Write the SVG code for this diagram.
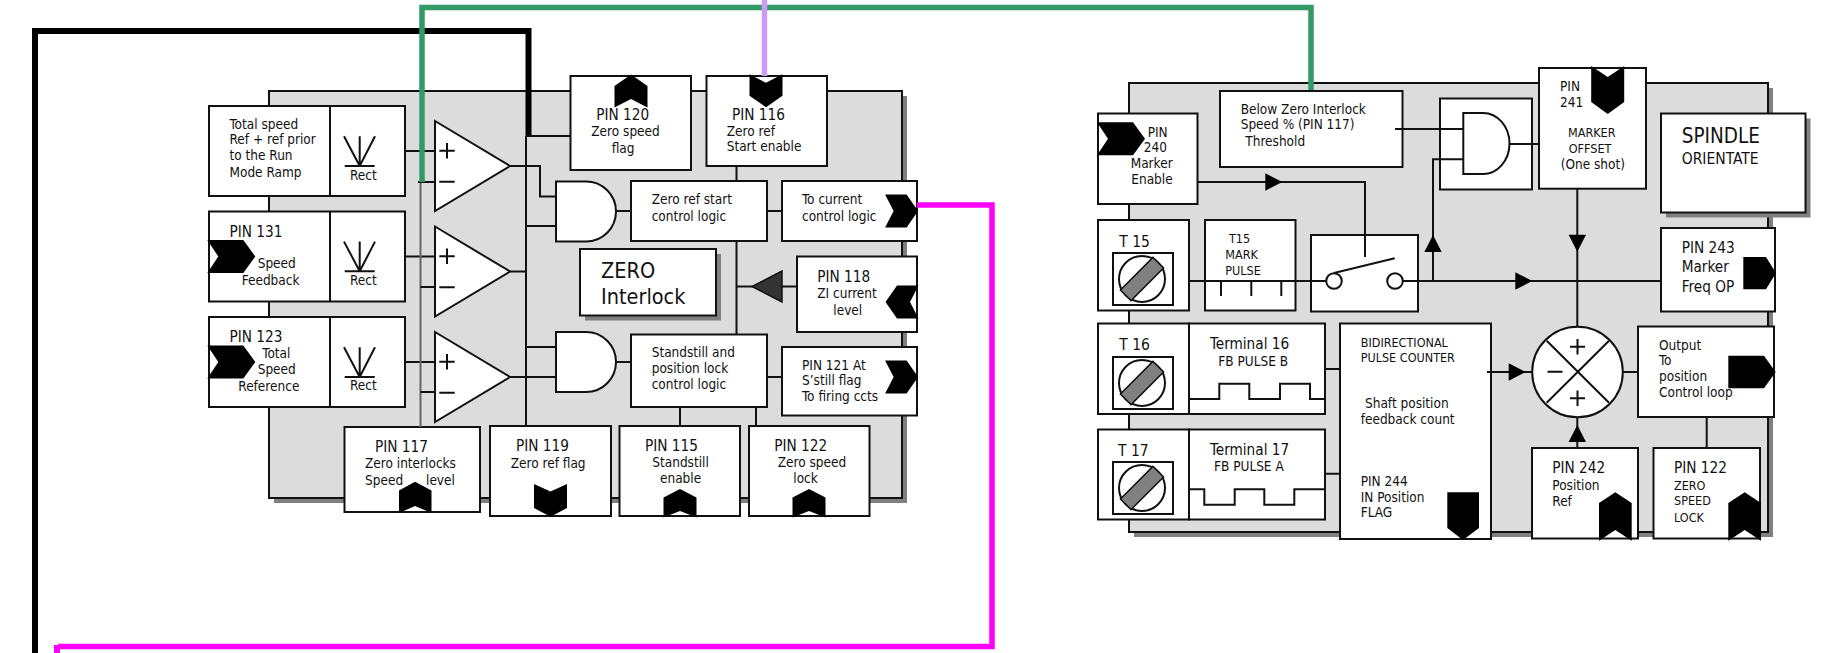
<svg xmlns="http://www.w3.org/2000/svg" width="1844" height="653" viewBox="0 0 1844 653">
<style>
text{font-family:"DejaVu Sans Condensed","DejaVu Sans","Liberation Sans",sans-serif;fill:#111}
.t{font-size:13.500px}.u{font-size:12.500px}.p{font-size:15.200px}.b{font-size:20.500px}.z{font-size:21.500px}.m{font-size:15.500px}
.box{fill:#fff;stroke:#111;stroke-width:2}
.panel{fill:#dcdcdc;stroke:#111;stroke-width:2}
.sh{fill:#808080;stroke:none}
.w{fill:none;stroke:#111;stroke-width:2}
.c{fill:none;stroke:#111;stroke-width:2}
.f{fill:#000;stroke:none}
.bar{fill:#808080;stroke:#111;stroke-width:1.500}
</style>
<defs>
<polygon id="cs" points="-16.500,-16.500 5,-16.500 16.500,0 5,16.500 -16.500,16.500 -8,0"/>
<polygon id="cl" points="-24,-16.500 12,-16.500 24,0 12,16.500 -24,16.500 -13,0"/>
<polygon id="au" points="0,0 8.700,17 -8.700,17"/>
<g id="rect"><path class="w" d="M344.700 166H374.700M359.700 166L344 136.300M359.700 166V136.300M359.700 166L375 136.300"/></g>
<g id="screw"><rect class="box" x="-29" y="-26" width="60" height="52"/><circle class="box" cx="0" cy="0" r="23"/><rect class="bar" x="-23" y="-7.500" width="46" height="15" transform="rotate(-45)"/></g>
<g id="amp"><polygon class="box" points="435,0 510,45 435,90"/><path class="w" d="M439.300 29.700H454.700M447 22V37.500M439.300 60.700H454.700"/></g>
</defs>
<g id="panel-left"><rect class="sh" x="274" y="96" width="633" height="407"/><rect class="panel" x="269" y="91" width="633" height="407"/></g>
<g id="panel-right"><rect class="sh" x="1134" y="88" width="639" height="449"/><rect class="panel" x="1129" y="83" width="639" height="449"/></g>

<g id="n-total-speed"><rect class="box" x="209" y="106" width="196" height="90"/><path class="w" d="M330 106V196"/><use href="#rect"/>
<text class="t" x="229.500" y="128.700">Total speed</text><text class="t" x="229.500" y="144">Ref + ref prior</text><text class="t" x="229.500" y="160">to the Run</text><text class="t" x="229.500" y="176.700">Mode Ramp</text><text class="t" x="350" y="180">Rect</text></g>
<g id="n-pin131"><rect class="box" x="209" y="211.500" width="196" height="90"/><path class="w" d="M330 211.500V301.500"/><use href="#rect" y="105.300"/>
<use class="f" href="#cl" x="231.300" y="256.500"/>
<text class="p" x="229.500" y="236.700">PIN 131</text><text class="t" x="257.700" y="268">Speed</text><text class="t" x="241.700" y="285">Feedback</text><text class="t" x="350" y="285">Rect</text></g>
<g id="n-pin123"><rect class="box" x="209" y="317" width="196" height="90"/><path class="w" d="M330 317V407"/><use href="#rect" y="211"/>
<use class="f" href="#cl" x="231.300" y="362"/>
<text class="p" x="229.500" y="341.700">PIN 123</text><text class="t" x="262.300" y="358.300">Total</text><text class="t" x="257.700" y="374.300">Speed</text><text class="t" x="238.300" y="391">Reference</text><text class="t" x="350" y="390">Rect</text></g>
<g id="n-amp1"><use href="#amp" y="121"/></g>
<g id="n-amp2"><use href="#amp" y="226.500"/></g>
<g id="n-amp3"><use href="#amp" y="332"/></g>
<g id="n-pin117"><rect class="box" x="344.500" y="427" width="135.500" height="85"/><polygon class="f" points="415,481.700 431.500,490.500 431.500,513 415,506 399,513 399,490.500"/>
<text class="p" x="375" y="451.700">PIN 117</text><text class="t" x="365" y="468.300">Zero interlocks</text><text class="t" x="365" y="485.300">Speed</text><text class="t" x="426" y="485.300">level</text></g>
<g id="n-pin119"><rect class="box" x="490" y="426" width="121" height="90"/><polygon class="f" points="534,484 550.500,491.500 567,484 567,508 550.500,516.700 534,508"/>
<text class="p" x="516" y="451">PIN 119</text><text class="t" x="510.700" y="468">Zero ref flag</text></g>
<g id="n-pin115"><rect class="box" x="619.500" y="426" width="120.500" height="90"/><polygon class="f" points="680,489 696.500,497.500 696.500,517.500 680,511 663.500,517.500 663.500,497.500"/>
<text class="p" x="645" y="451">PIN 115</text><text class="t" x="652.300" y="466.700">Standstill</text><text class="t" x="660" y="482.700">enable</text></g>
<g id="n-pin122a"><rect class="box" x="749" y="426" width="120.500" height="90"/><polygon class="f" points="809,489 825.500,497.500 825.500,517.500 809,511 792.500,517.500 792.500,497.500"/>
<text class="p" x="774.300" y="451">PIN 122</text><text class="t" x="777.700" y="466.700">Zero speed</text><text class="t" x="793.300" y="482.700">lock</text></g>
<g id="n-pin120"><rect class="box" x="570.500" y="76" width="120.500" height="94"/><use class="f" href="#cs" transform="translate(631 91) rotate(-90)"/>
<text class="p" x="596.300" y="120">PIN 120</text><text class="t" x="591.300" y="136">Zero speed</text><text class="t" x="611.700" y="152.700">flag</text></g>
<g id="n-pin116"><rect class="box" x="706.500" y="76" width="120.500" height="90"/><use class="f" href="#cs" transform="translate(766 90.700) rotate(90)"/>
<text class="p" x="732" y="120">PIN 116</text><text class="t" x="726.700" y="136">Zero ref</text><text class="t" x="726.700" y="151">Start enable</text></g>
<g id="n-and1"><path class="box" d="M556 181.500H586A30 30 0 0 1 586 241.500H556Z"/></g>
<g id="n-and2"><path class="box" d="M556 332H586A30 30 0 0 1 586 392H556Z"/></g>
<g id="n-zero-start"><rect class="box" x="631" y="181" width="136" height="60"/><text class="t" x="651.700" y="204">Zero ref start</text><text class="t" x="651.700" y="220.700">control logic</text></g>
<g id="n-current"><rect class="box" x="782" y="181" width="135" height="60"/><use class="f" href="#cs" x="901.600" y="211"/><text class="t" x="802" y="204">To current</text><text class="t" x="802" y="220.700">control logic</text></g>
<g id="n-zero-interlock"><rect class="sh" x="585" y="254" width="136" height="66.500"/><rect class="box" x="580" y="249" width="136" height="66.500"/><text class="z" x="601" y="278.300">ZERO</text><text class="z" x="601" y="304">Interlock</text></g>
<g id="n-pin118"><rect class="box" x="797" y="256.500" width="120" height="75.500"/><use class="f" href="#cs" transform="translate(902 302) rotate(180)"/><text class="p" x="817.300" y="281.700">PIN 118</text><text class="t" x="817.300" y="298.300">ZI current</text><text class="t" x="833.300" y="315">level</text></g>
<g id="n-standstill"><rect class="box" x="631" y="334.500" width="136" height="72.500"/><text class="t" x="651.700" y="356.700">Standstill and</text><text class="t" x="651.700" y="372.700">position lock</text><text class="t" x="651.700" y="389">control logic</text></g>
<g id="n-pin121"><rect class="box" x="782" y="347" width="135" height="68.500"/><use class="f" href="#cs" x="901.600" y="377"/><text class="t" x="802" y="370">PIN 121 At</text><text class="t" x="802" y="385">S’still flag</text><text class="t" x="802" y="401">To firing ccts</text></g>

<g id="n-pin240"><rect class="box" x="1098" y="113.500" width="99.500" height="90.500"/><use class="f" href="#cl" x="1121" y="138.700"/><text class="t" x="1147.700" y="136.700">PIN</text><text class="t" x="1143.700" y="152">240</text><text class="t" x="1130.700" y="168">Marker</text><text class="t" x="1131.300" y="184">Enable</text></g>
<g id="n-below-zero"><rect class="box" x="1220" y="91" width="182.500" height="76"/><text class="t" x="1240.700" y="114">Below Zero Interlock</text><text class="t" x="1240.700" y="129">Speed % (PIN 117)</text><text class="t" x="1245.300" y="146">Threshold</text></g>
<g id="n-t15"><rect class="box" x="1098" y="220" width="91" height="90.500"/><use href="#screw" x="1142" y="279"/><text class="m" x="1119.300" y="246.700">T 15</text></g>
<g id="n-t15-mark"><rect class="box" x="1205" y="220" width="90.500" height="90.500"/><path class="w" d="M1221 281V296M1251.300 281V296M1281.300 281V296"/><text class="u" x="1229" y="243.300">T15</text><text class="u" x="1225.300" y="258.700">MARK</text><text class="u" x="1225.300" y="274.700">PULSE</text></g>
<g id="n-switch"><rect class="box" x="1311" y="235" width="107" height="76.500"/><path class="w" d="M1334 273L1394.700 258.300"/><circle class="box" cx="1334" cy="281" r="7.800"/><circle class="box" cx="1395" cy="281" r="7.800"/></g>
<g id="n-and3"><rect class="box" x="1440" y="98.500" width="92" height="91"/><path class="box" d="M1463.300 113H1483A26.500 30.500 0 0 1 1483 174H1463.300Z"/></g>
<g id="n-pin241"><rect class="box" x="1539" y="68" width="107" height="120.700"/><use class="f" href="#cl" transform="translate(1607.700 90) rotate(90)"/><text class="t" x="1560" y="91">PIN</text><text class="t" x="1560" y="106.700">241</text><text class="u" x="1568" y="137.300">MARKER</text><text class="u" x="1568.700" y="153">OFFSET</text><text class="t" x="1560.700" y="168.700">(One shot)</text></g>
<g id="n-spindle"><rect class="sh" x="1666" y="118.500" width="144.500" height="99"/><rect class="box" x="1661" y="113.500" width="144.500" height="99"/><text class="b" x="1681.700" y="143.300">SPINDLE</text><text class="m" x="1681.700" y="164">ORIENTATE</text></g>
<g id="n-pin243"><rect class="box" x="1661" y="228" width="114" height="83.500"/><polygon class="f" points="1743.300,257 1766,257 1776,273 1766,289.300 1743.300,289.300"/><text class="p" x="1681.700" y="253.300">PIN 243</text><text class="p" x="1681.700" y="272">Marker</text><text class="p" x="1681.700" y="291.700">Freq OP</text></g>
<g id="n-output"><rect class="box" x="1638" y="326.500" width="136" height="90.500"/><polygon class="f" points="1728.300,355.700 1764,355.700 1775.700,372 1764,388.300 1728.300,388.300"/><text class="t" x="1659" y="349.700">Output</text><text class="t" x="1659" y="365">To</text><text class="t" x="1659" y="381">position</text><text class="t" x="1659" y="396.700">Control loop</text></g>
<g id="n-pin242"><rect class="box" x="1532" y="448" width="106" height="90.500"/><polygon class="f" points="1615.300,492.300 1631.700,503 1631.700,540.700 1615.300,530 1599,540.700 1599,503"/><text class="p" x="1552.300" y="473.300">PIN 242</text><text class="t" x="1552.300" y="490">Position</text><text class="t" x="1552.300" y="505.700">Ref</text></g>
<g id="n-pin122b"><rect class="box" x="1653.500" y="448" width="106.500" height="90.500"/><polygon class="f" points="1744.700,492.300 1761,503 1761,540.700 1744.700,530 1728.300,540.700 1728.300,503"/><text class="p" x="1674" y="473.300">PIN 122</text><text class="u" x="1674" y="490">ZERO</text><text class="u" x="1674" y="505">SPEED</text><text class="u" x="1674" y="521.700">LOCK</text></g>
<g id="n-counter"><rect class="box" x="1340" y="323.500" width="151" height="215.500"/><polygon class="f" points="1447.300,492.300 1479,492.300 1479,528 1463,540 1447.300,528"/><text class="u" x="1360.700" y="346.700">BIDIRECTIONAL</text><text class="u" x="1360.700" y="361.700">PULSE COUNTER</text><text class="t" x="1365" y="408.300">Shaft position</text><text class="t" x="1360.700" y="424">feedback count</text><text class="t" x="1360.700" y="486">PIN 244</text><text class="t" x="1360.700" y="502">IN Position</text><text class="t" x="1360.700" y="517.300">FLAG</text></g>
<g id="n-t16"><rect class="box" x="1098" y="323.500" width="91" height="90.500"/><rect class="box" x="1189" y="323.500" width="136" height="90.500"/><use href="#screw" x="1142" y="383"/><path class="w" d="M1189 399H1219.300V383.700H1249.300V399H1280V383.700H1310V399H1325"/><text class="m" x="1119.300" y="350">T 16</text><text class="p" x="1210" y="349">Terminal 16</text><text class="t" x="1218.300" y="366">FB PULSE B</text></g>
<g id="n-t17"><rect class="box" x="1098" y="429.500" width="91" height="90"/><rect class="box" x="1189" y="429.500" width="136" height="90"/><use href="#screw" x="1142" y="488"/><path class="w" d="M1189 489.300H1204.300V504.700H1234.700V489.300H1264.300V504.700H1294.300V489.300H1325"/><text class="m" x="1118" y="455.700">T 17</text><text class="p" x="1210" y="455">Terminal 17</text><text class="t" x="1214" y="471">FB PULSE A</text></g>
<g id="n-sum"><circle class="box" cx="1577.500" cy="372" r="45.300"/><path class="w" d="M1546.700 340.700L1609 402.700M1609 340.700L1546.700 402.700M1570 346.700H1585M1577.500 339V354.500M1547.500 371.700H1562.500M1570 398.300H1585M1577.500 390.500V406"/></g>

<g id="connectors">
<path class="c" d="M405 151H435M405 256.500H435M405 362H435M510 166H540V196.500H556M526 136V426M526 226H556M510 271.500H526M526 347H556M510 377H556"/>
<path class="c" d="M736.500 166V181M736.500 241V334.500M797 286.500H736.500M616 211H631M767 211H782M616 362H631M767 377H782M680 407V426M756 407V426"/>
<polygon fill="#333" stroke="#111" stroke-width="1.500" points="782,271 782,302 752,286.500"/>
<path fill="none" stroke="#666" stroke-width="2" d="M420.500 182V427"/>
<path class="c" d="M418 182H435M420.500 287H435M420.500 392H435"/>
<path fill="none" stroke="#000" stroke-width="6" d="M528.500 136V31H35V653"/>
<path class="c" d="M526 136H570.500"/>
<path fill="none" stroke="#339966" stroke-width="5.500" d="M422 182V7.500H1311V90"/>
<path fill="none" stroke="#c99cf5" stroke-width="5.500" d="M764.500 0V76"/>
<path fill="none" stroke="#ff00ff" stroke-width="5.500" d="M917 205H992V646.500H58"/>
<rect x="54" y="645" width="6" height="8" fill="#ff00ff"/>
<path class="c" d="M1197.500 182H1365V257M1189 281H1326M1403 281H1661M1433 281V159.300H1463M1395 129H1463M1509.500 144H1539M1577.300 188.700V326.700M1487 372H1533M1622.800 372H1638M1577.300 417V448M1706.700 417V448M1325 369H1340M1325 473.700H1340"/>
<use class="f" href="#au" transform="translate(1282.300 182) rotate(90)"/>
<use class="f" href="#au" transform="translate(1433 235)"/>
<use class="f" href="#au" transform="translate(1532.300 281) rotate(90)"/>
<use class="f" href="#au" transform="translate(1577.300 251.700) rotate(180)"/>
<use class="f" href="#au" transform="translate(1525.700 372) rotate(90)"/>
<use class="f" href="#au" transform="translate(1577.300 425)"/>
</g>
</svg>
